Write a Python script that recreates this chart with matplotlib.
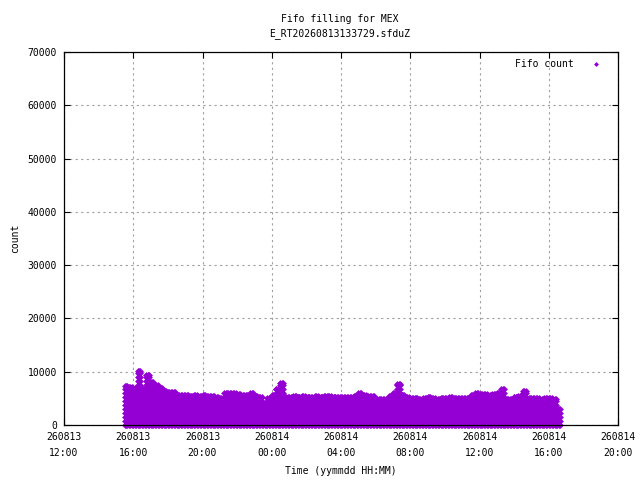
import datetime as dt

import matplotlib
matplotlib.use('Agg')
import matplotlib.dates as mdates
import matplotlib.pyplot as plt

# fifo peak count per 15 minute slot, starting 260813 15:30
slot_start = dt.datetime(2026, 8, 13, 15, 30)
slot_minutes = 15
peaks = [
    7300, 7100, 7000, 10100, 6800, 9400, 8000, 7500, 7000, 6400,
    6200, 6200, 5600, 5600, 5600, 5500, 5600, 5500, 5600, 5400,
    5400, 5200, 5000, 6000, 6000, 6000, 5800, 5600, 5600, 6000,
    5400, 5200, 4000, 5000, 5600, 6800, 7800, 5200, 5200, 5400,
    5300, 5500, 5300, 5200, 5400, 5300, 5500, 5400, 5300, 5200,
    5200, 5200, 5200, 5400, 6000, 5600, 5400, 5400, 4900, 4900,
    4800, 5400, 6000, 7700, 5600, 5200, 5000, 5100, 4900, 5000,
    5200, 5000, 4900, 5100, 5000, 5200, 5000, 5100, 5000, 5100,
    5600, 6000, 5800, 5800, 5700, 5800, 6000, 6700, 4900, 4900,
    5300, 5400, 6300, 5000, 5000, 5100, 4900, 5000, 5100, 4800,
    3000,
]
sample_offsets = [0, 5, 10]  # minutes inside a slot
levels = [0, 750, 1500, 2250, 3000, 3750, 4500, 5250, 6000, 6750,
          7500, 8250, 9000, 9750, 10500]

times = []
counts = []
for i, peak in enumerate(peaks):
    t0 = slot_start + dt.timedelta(minutes=slot_minutes * i)
    for off in sample_offsets:
        t = t0 + dt.timedelta(minutes=off)
        for lev in levels:
            if lev < peak:
                times.append(t)
                counts.append(lev)
        times.append(t)
        counts.append(peak)

plt.rcParams['font.family'] = 'DejaVu Sans Mono'
plt.rcParams['font.size'] = 7

fig = plt.figure(figsize=(6.4, 4.8), dpi=100)
ax = fig.add_axes([64 / 640, 1 - 425 / 480, (618 - 64) / 640, (425 - 52) / 480])

ax.plot(times, counts, 'D', color='#9400d3', markersize=3.5,
        markeredgewidth=0, linestyle='none', clip_on=False, zorder=2)

ax.set_xlim(dt.datetime(2026, 8, 13, 12, 0), dt.datetime(2026, 8, 14, 20, 0))
ax.set_ylim(0, 70000)
ax.set_yticks(range(0, 70001, 10000))
ax.xaxis.set_major_locator(mdates.HourLocator(byhour=[0, 4, 8, 12, 16, 20]))
ax.xaxis.set_major_formatter(mdates.DateFormatter('%y%m%d\n%H:%M'))

ax.tick_params(direction='in', length=4.5, width=0.8, top=True, right=True,
               labelsize=7, color='black', pad=5)
for lab in ax.get_xticklabels():
    lab.set_linespacing(1.75)

ax.grid(True, color='#a0a0a0', linestyle=(0, (2, 3)), linewidth=0.8)
for s in ax.spines.values():
    s.set_linewidth(0.9)
    s.set_zorder(3)

ax.set_ylabel('count', fontsize=7)
ax.yaxis.set_label_coords(-0.08, 0.5)
ax.set_xlabel('Time (yymmdd HH:MM)', fontsize=7)
ax.xaxis.set_label_coords(0.5, -0.11)

fig.text(0.531, 1 - 19 / 480, 'Fifo filling for MEX', ha='center', va='center')
fig.text(0.531, 1 - 34 / 480, 'E_RT20260813133729.sfduZ', ha='center', va='center')

# key in the top right corner, like gnuplot draws it
key_y = 1 - (64 - 52) / 373
ax.text((574 - 64) / 554, key_y, 'Fifo count', transform=ax.transAxes,
        ha='right', va='center')
ax.plot([(596 - 64) / 554], [key_y], 'D', color='#9400d3', markersize=2.5,
        markeredgewidth=0, transform=ax.transAxes, clip_on=False)

fig.savefig('out.png', dpi=100)
